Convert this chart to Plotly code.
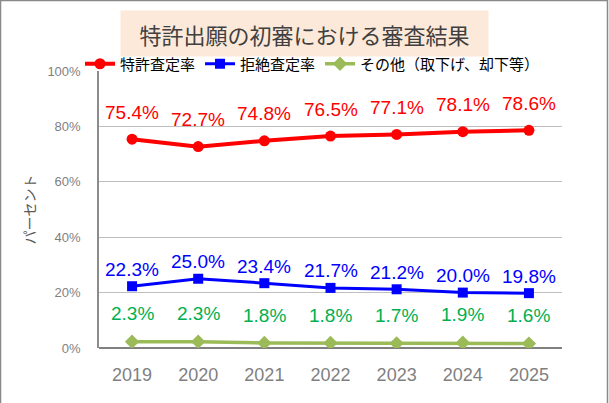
import plotly.graph_objects as go

# 審査結果（%）
years = [2019, 2020, 2021, 2022, 2023, 2024, 2025]
grant_rate = [75.4, 72.7, 74.8, 76.5, 77.1, 78.1, 78.6]
reject_rate = [22.3, 25.0, 23.4, 21.7, 21.2, 20.0, 19.8]
other_rate = [2.3, 2.3, 1.8, 1.8, 1.7, 1.9, 1.6]

series_names = ["特許査定率", "拒絶査定率", "その他（取下げ、却下等）"]
y_ticks = [0, 20, 40, 60, 80, 100]
y_tick_labels = ["0%", "20%", "40%", "60%", "80%", "100%"]

W, H = 609, 403
ML, MR, MT, MB = 99, 47, 71, 55
JP_FONT = "Noto Sans CJK JP"
NUM_FONT = "Liberation Sans, Arial"

fig = go.Figure()

styles = [
    # line colour, marker symbol, marker size, line width, label colour, label shift
    ("#FF0000", "circle", 11, 4, "#FF0000", 27),
    ("#0000FF", "square", 10, 3, "#0000FF", 17),
    ("#9BBB59", "diamond", 11, 3.5, "#00B050", 28),
]

for name, vals, st in zip(series_names, [grant_rate, reject_rate, other_rate], styles):
    col, sym, msize, lw, lab_col, shift = st
    fig.add_trace(go.Scatter(
        x=years, y=vals, name=name, mode="lines+markers",
        line=dict(color=col, width=lw),
        marker=dict(symbol=sym, size=msize, color=col),
        hoverinfo="skip",
    ))
    # data labels above each point
    for x, v in zip(years, vals):
        fig.add_annotation(
            x=x, y=v, text=f"{v:.1f}%", showarrow=False,
            yshift=shift, font=dict(family=NUM_FONT, size=19, color=lab_col),
        )

pw, ph = W - ML - MR, H - MT - MB

# chart title in a peach box
fig.add_annotation(
    xref="paper", yref="paper",
    x=(304.5 - ML) / pw, y=(H - MB - 33.5) / ph,
    text="特許出願の初審における審査結果", showarrow=False,
    font=dict(family=JP_FONT, size=22, color="#404040"),
    bgcolor="#FDE9D9", width=365, height=43, borderpad=1,
    xanchor="center", yanchor="middle",
)

# outer frame of the chart
fig.add_shape(
    type="rect", xref="paper", yref="paper",
    x0=(0.5 - ML) / pw, x1=(W - 1.5 - ML) / pw,
    y0=(MB - H + 1.5) / ph, y1=(H - MB - 0.5) / ph,
    line=dict(color="#898989", width=1.5), fillcolor="rgba(0,0,0,0)",
)

fig.update_layout(
    width=W, height=H,
    margin=dict(l=ML, r=MR, t=MT, b=MB, autoexpand=False),
    paper_bgcolor="white", plot_bgcolor="white",
    showlegend=True,
    legend=dict(
        orientation="h", x=(80 - ML) / pw, xanchor="left",
        y=(H - MB - 64) / ph, yanchor="middle",
        font=dict(family=JP_FONT, size=15, color="black"),
        itemwidth=30, tracegroupgap=0,
        bgcolor="rgba(0,0,0,0)",
    ),
)

fig.update_xaxes(
    range=[2018.5, 2025.5], tickvals=years, ticktext=[str(y) for y in years],
    showgrid=False, zeroline=False,
    showline=False, ticks="",
    tickfont=dict(family=NUM_FONT, size=18, color="#7f7f7f"),
    ticklabelstandoff=14,
)
fig.update_yaxes(
    range=[0, 100], tickvals=y_ticks, ticktext=y_tick_labels,
    showgrid=True, gridcolor="#BFBFBF", gridwidth=1,
    zeroline=True, zerolinecolor="#808080", zerolinewidth=1.5,
    showline=True, linecolor="#8c8c8c", linewidth=1.5,
    ticks="", ticklabelstandoff=14,
    tickfont=dict(family=NUM_FONT, size=13, color="#7f7f7f"),
    title=dict(text="パーセント", standoff=9,
               font=dict(family=JP_FONT, size=14, color="#595959")),
)

# page has a default 8px body margin; remove it so the chart sits at 0,0
fig.write_html("out.html", config={"displayModeBar": False},
               post_script="document.body.style.margin='0';")
